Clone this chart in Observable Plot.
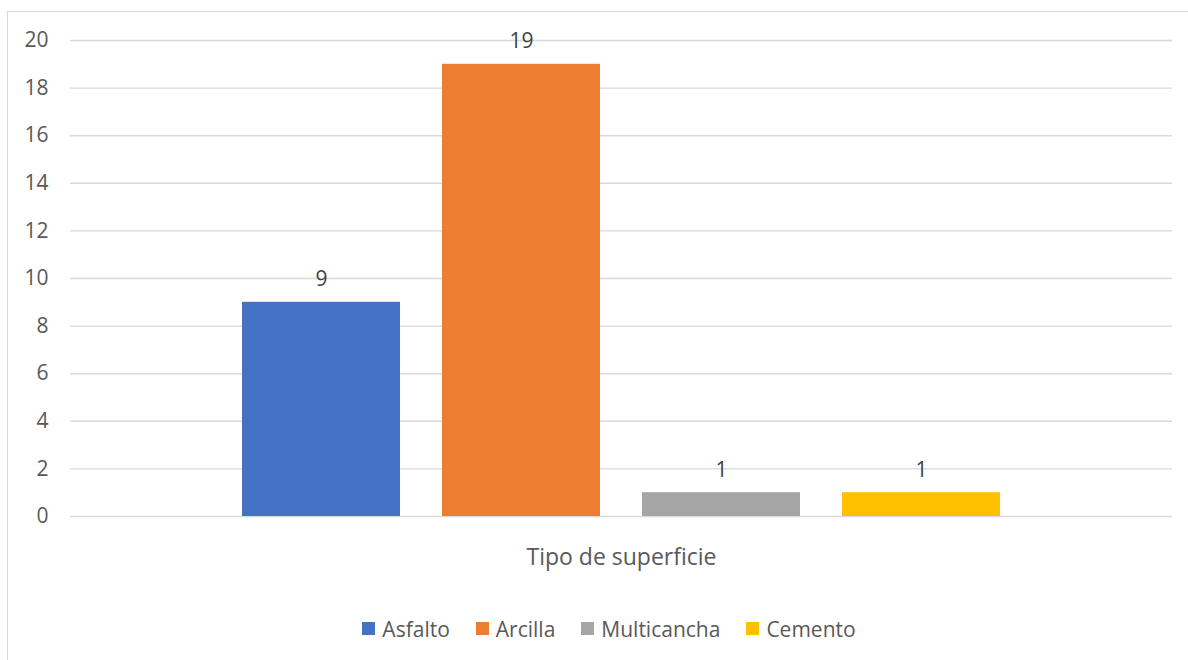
<!DOCTYPE html>
<html>
<head>
<meta charset="utf-8">
<script src="https://cdn.jsdelivr.net/npm/d3@7"></script>
<script src="https://cdn.jsdelivr.net/npm/@observablehq/plot@0.6"></script>
<style>
  html, body { margin: 0; padding: 0; background: #fff; overflow: hidden; }
  #wrap { position: relative; width: 1188px; height: 660px; }
  #frame { position: absolute; left: 7px; top: 11px; width: 1200px; height: 700px; border: 1.5px solid #d9d9d9; box-sizing: border-box; }
  #chart { position: absolute; left: 0; top: 0; }
  #legend { position: absolute; left: 0; top: 612px; width: 1218px; display: flex; justify-content: center; }
  .lg-swatch { margin-right: 26px !important; }
  .lg-swatch:last-child { margin-right: 0 !important; }
  .lg-swatch > svg { margin-right: 7px !important; }
</style>
</head>
<body>
<div id="wrap">
  <div id="frame"></div>
  <div id="chart"></div>
  <div id="legend"></div>
</div>
<script>
const series = ["Asfalto", "Arcilla", "Multicancha", "Cemento"];
const values = [9, 19, 1, 1];
const colors = ["#4472C4", "#ED7D31", "#A5A5A5", "#FFC000"];
const yTicks = [0, 2, 4, 6, 8, 10, 12, 14, 16, 18, 20];
const category = "Tipo de superficie";

const data = series.map((s, i) => ({ serie: s, value: values[i] }));
const font = "'Open Sans', sans-serif";

const chart = Plot.plot({
  width: 1188,
  height: 660,
  marginTop: 40,
  marginBottom: 144,
  marginLeft: 70,
  marginRight: 16,
  style: { fontFamily: font, fontSize: "21px", color: "#595959", background: "transparent" },
  x: { domain: series, paddingInner: 0.21, paddingOuter: 0.86, axis: null },
  y: { domain: [0, 20], ticks: yTicks, label: null, tickSize: 0, tickPadding: 22 },
  color: { domain: series, range: colors },
  marks: [
    Plot.gridY(yTicks, { stroke: "#d9d9d9", strokeOpacity: 1, strokeWidth: 1.4 }),
    Plot.barY(data, { x: "serie", y: "value", fill: "serie" }),
    Plot.text(data, { x: "serie", y: "value", text: d => String(d.value), lineAnchor: "bottom", dy: -16, fill: "#404040", fontSize: 21 }),
    Plot.text([category], { frameAnchor: "bottom", dy: 48, text: d => d, fill: "#595959", fontSize: 23 })
  ]
});
document.getElementById("chart").appendChild(chart);

const legend = Plot.legend({
  color: { domain: series, range: colors },
  className: "lg",
  swatchSize: 13,
  swatchWidth: 13,
  swatchHeight: 13,
  style: { fontFamily: font, fontSize: "21px", color: "#595959" }
});
document.getElementById("legend").appendChild(legend);
</script>
</body>
</html>
